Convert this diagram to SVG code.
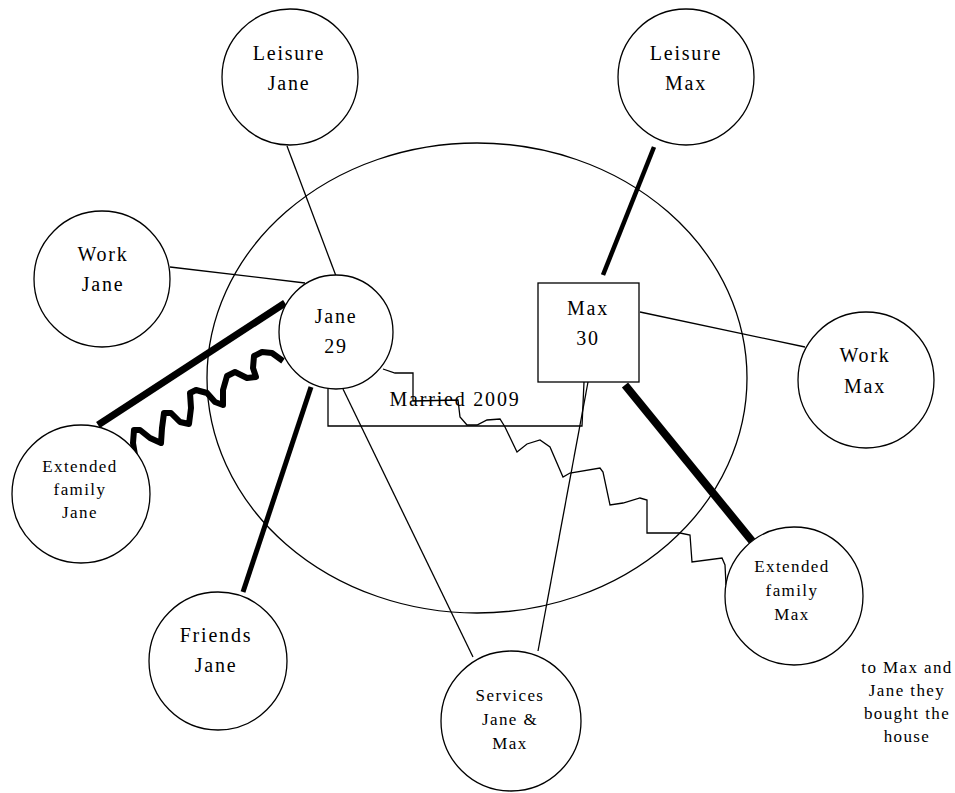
<svg xmlns="http://www.w3.org/2000/svg" width="955" height="793" viewBox="0 0 955 793">
<style>
  .n { fill: #fff; stroke: #000; stroke-width: 1.3; }
  .hh { fill: none; stroke: #000; stroke-width: 1.3; }
  .thin { fill: none; stroke: #000; stroke-width: 1.3; }
  .t { font-family: "Liberation Serif", "Times New Roman", serif; fill: #000; text-anchor: middle; }
  .big { font-size: 20px; letter-spacing: 1.8px; }
  .small { font-size: 17px; letter-spacing: 1.4px; }
</style>
<rect x="0" y="0" width="955" height="793" fill="#fff"/>
<g id="household">
  <ellipse class="hh" cx="477" cy="378" rx="270" ry="235"/>
</g>
<g id="connectors">
  <line class="thin" x1="287" y1="146" x2="336" y2="276"/>
  <line class="thin" x1="170" y1="267" x2="305" y2="283"/>
  <line class="thin" x1="640" y1="312" x2="805" y2="347"/>
  <line class="thin" x1="343" y1="389" x2="473" y2="657"/>
  <line class="thin" x1="588" y1="382" x2="538" y2="651"/>
  <polyline class="thin" points="328,387 328,426 582,426 584,382"/>
  <line stroke="#000" stroke-width="4.5" x1="654" y1="147" x2="603" y2="275"/>
  <line stroke="#000" stroke-width="8" x1="625" y1="385" x2="752" y2="541"/>
  <line stroke="#000" stroke-width="7" x1="98" y1="425" x2="285" y2="303"/>
  <line stroke="#000" stroke-width="5" x1="243" y1="592" x2="311" y2="387"/>
  <polyline fill="none" stroke="#000" stroke-width="6" stroke-linejoin="round" points="283,361 272,353 262,352 254,356 253,368 256,377 247,378 235,372 227,376 223,390 223,405 215,402 207,393 196,390 190,393 191,408 189,424 180,422 171,413 164,413 162,428 161,443 150,438 140,430 134,430 133,443 135,455"/>
  <polyline class="thin" points="383,369 395,373 413,373 413,401 458,400 460,417 467,425 477,425 487,420 500,419 505,427 517,452 527,444 540,440 550,447 563,477 570,473 600,468 603,472 610,505 623,503 640,498 647,500 647,533 680,533 690,535 692,562 722,558 725,565 726,585"/>
  <text class="t big" x="455" y="406">Married 2009</text>
</g>
<g id="leisure-jane">
  <circle class="n" cx="290" cy="77" r="68"/>
  <text class="t big" x="289" y="60">Leisure</text>
  <text class="t big" x="289" y="90">Jane</text>
</g>
<g id="work-jane">
  <circle class="n" cx="102" cy="279" r="68"/>
  <text class="t big" x="103" y="261">Work</text>
  <text class="t big" x="103" y="291">Jane</text>
</g>
<g id="jane">
  <circle class="n" cx="336" cy="332" r="57"/>
  <text class="t big" x="336" y="323">Jane</text>
  <text class="t big" x="336" y="353">29</text>
</g>
<g id="max">
  <rect class="n" x="538" y="283" width="101" height="99"/>
  <text class="t big" x="588" y="315">Max</text>
  <text class="t big" x="588" y="345">30</text>
</g>
<g id="leisure-max">
  <circle class="n" cx="686" cy="77" r="68"/>
  <text class="t big" x="686" y="60">Leisure</text>
  <text class="t big" x="686" y="90">Max</text>
</g>
<g id="work-max">
  <circle class="n" cx="866" cy="380" r="68"/>
  <text class="t big" x="865" y="362">Work</text>
  <text class="t big" x="865" y="393">Max</text>
</g>
<g id="extended-family-jane">
  <circle class="n" cx="81" cy="494" r="69"/>
  <text class="t small" x="80" y="472">Extended</text>
  <text class="t small" x="80" y="495">family</text>
  <text class="t small" x="80" y="518">Jane</text>
</g>
<g id="friends-jane">
  <circle class="n" cx="218" cy="661" r="69"/>
  <text class="t big" x="216" y="642">Friends</text>
  <text class="t big" x="216" y="672">Jane</text>
</g>
<g id="services">
  <circle class="n" cx="511" cy="721" r="70"/>
  <text class="t small" x="510" y="701">Services</text>
  <text class="t small" x="510" y="725">Jane &amp;</text>
  <text class="t small" x="510" y="749">Max</text>
</g>
<g id="extended-family-max">
  <circle class="n" cx="794" cy="596" r="69"/>
  <text class="t small" x="792" y="572">Extended</text>
  <text class="t small" x="792" y="596">family</text>
  <text class="t small" x="792" y="620">Max</text>
</g>
<g id="note">
  <text class="t small" x="907" y="673">to Max and</text>
  <text class="t small" x="907" y="696">Jane they</text>
  <text class="t small" x="907" y="719">bought the</text>
  <text class="t small" x="907" y="742">house</text>
</g>
</svg>
